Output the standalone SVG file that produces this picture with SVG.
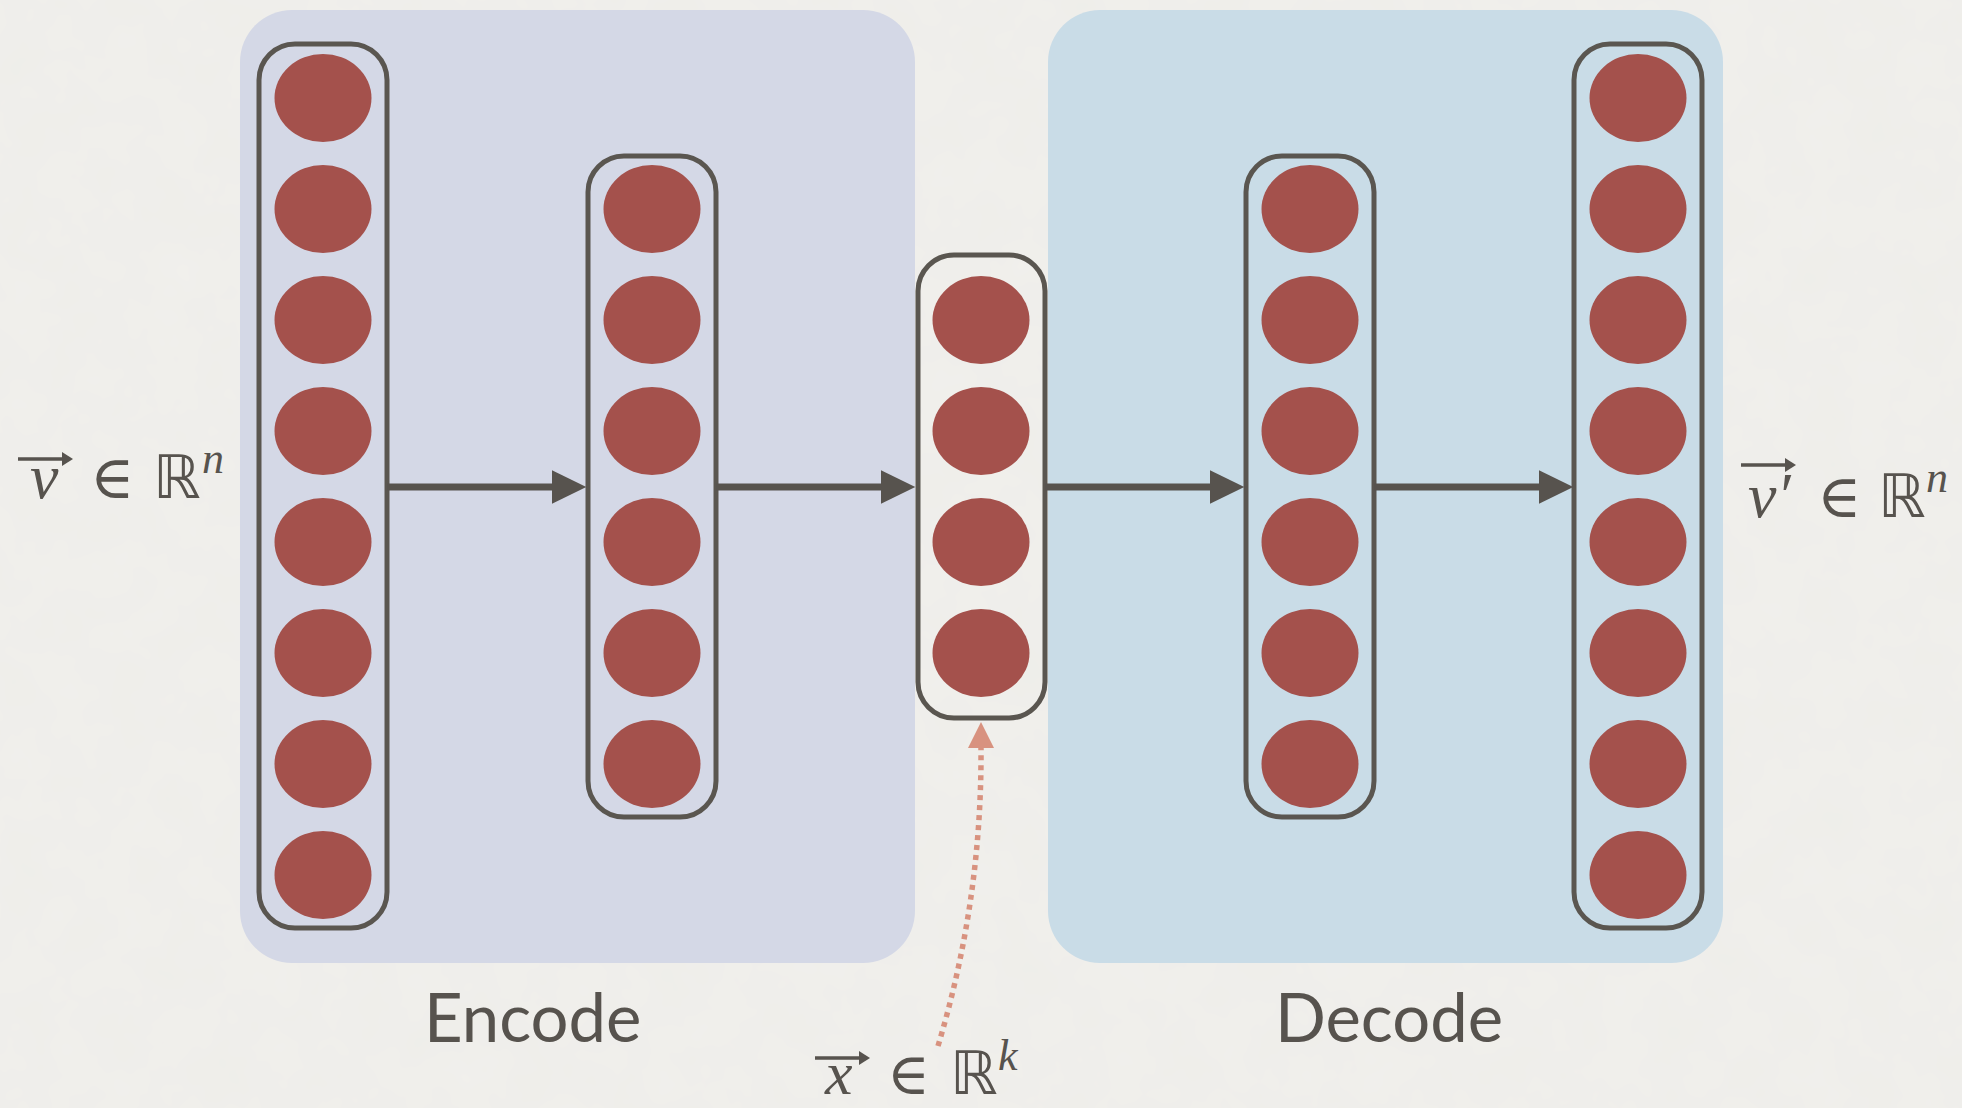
<svg xmlns="http://www.w3.org/2000/svg" width="1962" height="1108" viewBox="0 0 1962 1108">
<style>
.panel-enc{fill:#d4d8e6}
.panel-dec{fill:#c9dce7}
.layer{fill:none;stroke:#5a5650;stroke-width:5}
.neuron{fill:#a4514c}
.conn{stroke:#57534e;stroke-width:7;fill:none}
.lbl{font-family:"Lato","Noto Sans",sans-serif;font-size:67px;fill:#57534e}
.math{font-family:"Liberation Serif","DejaVu Serif",serif;fill:#57534e}
.it{font-style:italic}
.bb{font-family:"DejaVu Sans",sans-serif;font-size:60px}
.vec{stroke:#57534e;stroke-width:3.5;fill:none}
.vhead{fill:#57534e}
</style>
<defs>
<marker id="ah" markerWidth="10" markerHeight="10" refX="0" refY="0" viewBox="-1 -5 6 10" orient="auto" markerUnits="strokeWidth">
<path d="M0,-2.4 L4.9,0 L0,2.4 Z" fill="#57534e"/>
</marker>
<filter id="paper" x="0" y="0" width="100%" height="100%">
<feTurbulence type="fractalNoise" baseFrequency="0.02" numOctaves="3" seed="3"/>
<feColorMatrix values="0 0 0 0 0.5  0 0 0 0 0.5  0 0 0 0 0.5  0 0 0 0.06 0"/>
<feComposite in2="SourceGraphic" operator="over"/>
</filter>
</defs>
<rect width="1962" height="1108" fill="#f1f0ec"/>
<rect width="1962" height="1108" fill="#f1f0ec" filter="url(#paper)"/>

<g id="encode-panel"><rect class="panel-enc" x="240" y="10" width="675" height="953" rx="52"/></g>
<g id="decode-panel"><rect class="panel-dec" x="1048" y="10" width="675" height="953" rx="52"/></g>

<g id="layer1">
<rect class="layer" x="259" y="44" width="128" height="884" rx="36"/>
<ellipse class="neuron" cx="323" cy="98" rx="48.5" ry="44"/>
<ellipse class="neuron" cx="323" cy="209" rx="48.5" ry="44"/>
<ellipse class="neuron" cx="323" cy="320" rx="48.5" ry="44"/>
<ellipse class="neuron" cx="323" cy="431" rx="48.5" ry="44"/>
<ellipse class="neuron" cx="323" cy="542" rx="48.5" ry="44"/>
<ellipse class="neuron" cx="323" cy="653" rx="48.5" ry="44"/>
<ellipse class="neuron" cx="323" cy="764" rx="48.5" ry="44"/>
<ellipse class="neuron" cx="323" cy="875" rx="48.5" ry="44"/>
</g>
<g id="layer2">
<rect class="layer" x="588" y="156" width="128" height="661" rx="36"/>
<ellipse class="neuron" cx="652" cy="209" rx="48.5" ry="44"/>
<ellipse class="neuron" cx="652" cy="320" rx="48.5" ry="44"/>
<ellipse class="neuron" cx="652" cy="431" rx="48.5" ry="44"/>
<ellipse class="neuron" cx="652" cy="542" rx="48.5" ry="44"/>
<ellipse class="neuron" cx="652" cy="653" rx="48.5" ry="44"/>
<ellipse class="neuron" cx="652" cy="764" rx="48.5" ry="44"/>
</g>
<g id="layer3">
<rect class="layer" x="918" y="255" width="127" height="463" rx="36"/>
<ellipse class="neuron" cx="981" cy="320" rx="48.5" ry="44"/>
<ellipse class="neuron" cx="981" cy="431" rx="48.5" ry="44"/>
<ellipse class="neuron" cx="981" cy="542" rx="48.5" ry="44"/>
<ellipse class="neuron" cx="981" cy="653" rx="48.5" ry="44"/>
</g>
<g id="layer4">
<rect class="layer" x="1246" y="156" width="128" height="661" rx="36"/>
<ellipse class="neuron" cx="1310" cy="209" rx="48.5" ry="44"/>
<ellipse class="neuron" cx="1310" cy="320" rx="48.5" ry="44"/>
<ellipse class="neuron" cx="1310" cy="431" rx="48.5" ry="44"/>
<ellipse class="neuron" cx="1310" cy="542" rx="48.5" ry="44"/>
<ellipse class="neuron" cx="1310" cy="653" rx="48.5" ry="44"/>
<ellipse class="neuron" cx="1310" cy="764" rx="48.5" ry="44"/>
</g>
<g id="layer5">
<rect class="layer" x="1574" y="44" width="128" height="884" rx="36"/>
<ellipse class="neuron" cx="1638" cy="98" rx="48.5" ry="44"/>
<ellipse class="neuron" cx="1638" cy="209" rx="48.5" ry="44"/>
<ellipse class="neuron" cx="1638" cy="320" rx="48.5" ry="44"/>
<ellipse class="neuron" cx="1638" cy="431" rx="48.5" ry="44"/>
<ellipse class="neuron" cx="1638" cy="542" rx="48.5" ry="44"/>
<ellipse class="neuron" cx="1638" cy="653" rx="48.5" ry="44"/>
<ellipse class="neuron" cx="1638" cy="764" rx="48.5" ry="44"/>
<ellipse class="neuron" cx="1638" cy="875" rx="48.5" ry="44"/>
</g>

<g id="connectors">
<line class="conn" x1="387" y1="487" x2="552" y2="487" marker-end="url(#ah)"/>
<line class="conn" x1="716" y1="487" x2="881" y2="487" marker-end="url(#ah)"/>
<line class="conn" x1="1045" y1="487" x2="1210" y2="487" marker-end="url(#ah)"/>
<line class="conn" x1="1374" y1="487" x2="1539" y2="487" marker-end="url(#ah)"/>
<path d="M938,1046 Q982,900 981,748" fill="none" stroke="#d8927f" stroke-width="5.5" stroke-dasharray="5 5"/>
<path d="M981,722 L994,748 L968,748 Z" fill="#d8927f"/>
</g>

<g id="label-encode"><text class="lbl" x="424" y="1042">Encode</text></g>
<g id="label-decode"><text class="lbl" x="1275" y="1042">Decode</text></g>

<g id="label-input">
<path class="vec" d="M18,459 L64,459"/><path class="vhead" d="M62,452 L73,459 L62,466 Z"/>
<text class="math" y="498" font-size="64"><tspan class="it" x="30">v</tspan><tspan x="90" font-size="60">∈</tspan><tspan class="bb" x="153">ℝ</tspan></text>
<text class="math it" x="202" y="473" font-size="44">n</text>
</g>
<g id="label-output">
<path class="vec" d="M1741,465 L1787,465"/><path class="vhead" d="M1785,458 L1796,465 L1785,472 Z"/>
<text class="math" y="517" font-size="64"><tspan class="it" x="1748">v′</tspan><tspan x="1817" font-size="60">∈</tspan><tspan class="bb" x="1878">ℝ</tspan></text>
<text class="math it" x="1926" y="492" font-size="44">n</text>
</g>
<g id="label-latent">
<path class="vec" d="M815,1058 L861,1058"/><path class="vhead" d="M859,1051 L870,1058 L859,1065 Z"/>
<text class="math" y="1094" font-size="62"><tspan class="it" x="825">x</tspan><tspan x="887" font-size="58">∈</tspan><tspan class="bb" x="950" font-size="58">ℝ</tspan></text>
<text class="math it" x="998" y="1070" font-size="44">k</text>
</g>
</svg>
